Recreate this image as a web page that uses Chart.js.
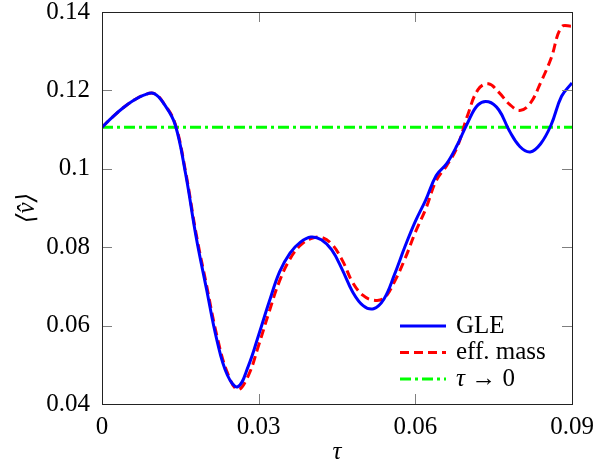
<!DOCTYPE html>
<html>
<head>
<meta charset="utf-8">
<script src="https://cdn.jsdelivr.net/npm/chart.js@4.4.1/dist/chart.umd.min.js"></script>
<style>
  html, body { margin:0; padding:0; background:#fff; }
  #wrap { width:614px; height:475px; }
</style>
</head>
<body>
<div id="wrap"><canvas id="chart" width="614" height="475"></canvas></div>
<script>
const tau = [0.000,0.002,0.004,0.006,0.008,0.010,0.012,0.014,0.016,0.018,
             0.020,0.022,0.024,0.026,0.028,0.030,0.032,0.034,0.036,0.038,
             0.040,0.042,0.044,0.046,0.048,0.050,0.052,0.054,0.056,0.058,
             0.060,0.062,0.064,0.066,0.068,0.070,0.072,0.074,0.076,0.078,
             0.080,0.082,0.084,0.086,0.088,0.090];
const gle = [0.1106,0.1132,0.1155,0.1174,0.1188,0.1192,0.1163,0.1113,0.0988,0.0828,
             0.0694,0.0563,0.0474,0.0444,0.0496,0.0576,0.0660,0.0737,0.0785,0.0813,
             0.0826,0.0819,0.0793,0.0743,0.0686,0.0651,0.0643,0.0668,0.0730,0.0801,
             0.0866,0.0921,0.0983,0.1013,0.1060,0.1117,0.1163,0.1171,0.1150,0.1097,
             0.1057,0.1043,0.1064,0.1112,0.1185,0.1219];
const effMass = [0.1106,0.1132,0.1155,0.1174,0.1188,0.1192,0.1164,0.1115,0.0993,0.0836,
             0.0704,0.0574,0.0480,0.0437,0.0472,0.0550,0.0635,0.0714,0.0770,0.0805,
             0.0822,0.0825,0.0808,0.0767,0.0710,0.0677,0.0665,0.0670,0.0712,0.0770,
             0.0838,0.0898,0.0970,0.1008,0.1055,0.1136,0.1202,0.1217,0.1195,0.1165,
             0.1149,0.1167,0.1220,0.1282,0.1362,0.1364];
const tauZeroX = [0, 0.09];
const tauZeroY = [0.1106, 0.1106];
const seriesNames = ['GLE', 'eff. mass', 'τ → 0'];
const xTicks = [0, 0.03, 0.06, 0.09];
const xTickLabels = ['0', '0.03', '0.06', '0.09'];
const yTicks = [0.04, 0.06, 0.08, 0.1, 0.12, 0.14];
const yTickLabels = ['0.04', '0.06', '0.08', '0.1', '0.12', '0.14'];

const FONT = '"Liberation Serif", "DejaVu Serif", serif';
const pts = (xs, ys) => xs.map((x, i) => ({ x, y: ys[i] }));

// ticks pointing inward + frame
const frame = {
  id: 'frame',
  afterDatasetsDraw(chart) {
    const { ctx, chartArea: a, scales: { x, y } } = chart;
    const L = 10;
    ctx.save();
    ctx.lineWidth = 1;
    ctx.strokeStyle = '#7f7f7f';
    ctx.beginPath();
    xTicks.forEach(v => {
      const px = Math.round(x.getPixelForValue(v)) + 0.5;
      ctx.moveTo(px, a.bottom); ctx.lineTo(px, a.bottom - L);
      ctx.moveTo(px, a.top); ctx.lineTo(px, a.top + L);
    });
    yTicks.forEach(v => {
      const py = Math.round(y.getPixelForValue(v)) + 0.5;
      ctx.moveTo(a.left, py); ctx.lineTo(a.left + L, py);
      ctx.moveTo(a.right, py); ctx.lineTo(a.right - L, py);
    });
    ctx.stroke();
    ctx.strokeStyle = '#222';
    ctx.strokeRect(Math.round(a.left) + 0.5, Math.round(a.top) + 0.5, Math.round(a.right - a.left), Math.round(a.bottom - a.top));
    ctx.restore();
  }
};

// legend inside the lower right corner
const legendBox = {
  id: 'legendBox',
  afterDraw(chart) {
    const ctx = chart.ctx;
    const x0 = 400, x1 = 446, tx = 456, rows = [326, 352.5, 379];
    ctx.save();
    chart.data.datasets.forEach((ds, i) => {
      const yy = rows[i];
      ctx.strokeStyle = ds.borderColor;
      ctx.lineWidth = ds.borderWidth;
      ctx.setLineDash(ds.borderDash || []);
      ctx.beginPath(); ctx.moveTo(x0, yy); ctx.lineTo(x1, yy); ctx.stroke();
      ctx.setLineDash([]);
      ctx.fillStyle = '#000';
      ctx.textBaseline = 'middle';
      let label = ds.label, cx = tx;
      if (label.startsWith('τ')) {
        ctx.font = 'italic 25px ' + FONT;
        ctx.fillText('τ', cx, yy);
        cx += ctx.measureText('τ').width;
        label = label.slice(1);
      }
      ctx.font = '25px ' + FONT;
      ctx.fillText(label, cx, yy);
    });
    ctx.restore();
  }
};

new Chart(document.getElementById('chart'), {
  type: 'line',
  data: {
    datasets: [
      { label: seriesNames[0], data: pts(tau, gle), borderColor: '#0000ff', borderWidth: 3, pointRadius: 0, tension: 0.4, fill: false },
      { label: seriesNames[1], data: pts(tau, effMass), borderColor: '#ff0000', borderWidth: 3, borderDash: [9, 5], pointRadius: 0, tension: 0.4, fill: false },
      { label: seriesNames[2], data: pts(tauZeroX, tauZeroY), borderColor: '#00ff00', borderWidth: 3, borderDash: [11, 4, 3, 4], pointRadius: 0, fill: false }
    ]
  },
  options: {
    responsive: false,
    animation: false,
    layout: { padding: { top: 12, right: 42, left: 0, bottom: 0 } },
    plugins: { legend: { display: false }, tooltip: { enabled: false } },
    font: { family: FONT, size: 25 },
    scales: {
      x: {
        type: 'linear', min: 0, max: 0.09,
        afterBuildTicks: s => { s.ticks = xTicks.map(v => ({ value: v })); },
        afterFit: s => { s.height = 71; s.paddingLeft = 0; s.paddingRight = 0; },
        grid: { display: false, drawTicks: false },
        border: { display: false },
        ticks: { color: '#000', padding: 8, maxRotation: 0, font: { family: FONT, size: 25 },
          callback: (v, i) => xTickLabels[i] },
        title: { display: true, text: 'τ', color: '#000', font: { family: FONT, size: 25, style: 'italic' }, padding: { top: 0, bottom: 8 } }
      },
      y: {
        type: 'linear', min: 0.04, max: 0.14,
        afterBuildTicks: s => { s.ticks = yTicks.map(v => ({ value: v })); },
        afterFit: s => { s.width = 102; s.paddingTop = 0; s.paddingBottom = 0; },
        grid: { display: false, drawTicks: false },
        border: { display: false },
        ticks: { color: '#000', padding: 12, font: { family: FONT, size: 25 },
          callback: (v, i) => yTickLabels[i] },
        title: { display: true, text: '⟨v̂⟩', color: '#000', font: { family: FONT, size: 25, style: 'italic' }, padding: { top: 12, bottom: 0 } }
      }
    }
  },
  plugins: [frame, legendBox]
});
</script>
</body>
</html>
